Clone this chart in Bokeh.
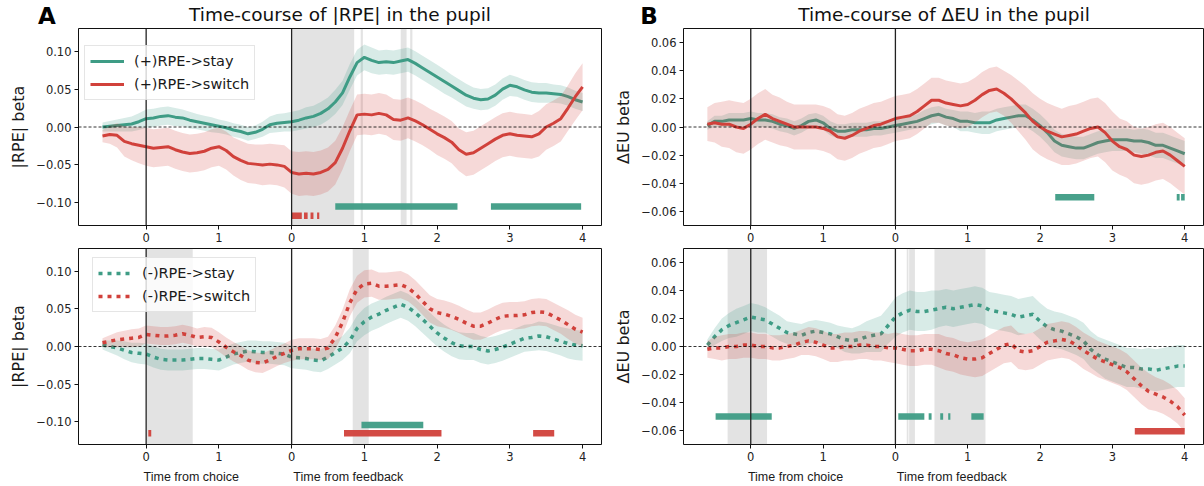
import numpy as np
from bokeh.plotting import figure
from bokeh.layouts import row, column
from bokeh.models import (Range1d, FixedTicker, LinearAxis, Span, Legend,
                          LegendItem)
from bokeh.core.properties import value
from bokeh.embed import file_html
from bokeh.resources import INLINE

# ---------------- data ----------------
# shared time axis: choice-locked part (t) then feedback-locked part (feedback 0 == 2.0)
T = [-0.6, -0.5, -0.4, -0.3, -0.2, -0.1, 0.0, 0.1, 0.2, 0.3,
     0.4, 0.5, 0.6, 0.7, 0.8, 0.9, 1.0, 1.1, 1.2, 1.3,
     1.4, 1.5, 1.6, 1.7, 1.8, 1.9, 2.0, 2.1, 2.2, 2.3,
     2.4, 2.5, 2.6, 2.7, 2.8, 2.9, 3.0, 3.1, 3.2, 3.3,
     3.4, 3.5, 3.6, 3.7, 3.8, 3.9, 4.0, 4.1, 4.2, 4.3,
     4.4, 4.5, 4.6, 4.7, 4.8, 4.9, 5.0, 5.1, 5.2, 5.3,
     5.4, 5.5, 5.6, 5.7, 5.8, 5.9, 6.0]
FB = 2.0  # position of "feedback 0" on the shared axis

XTICKS = [0, 1, 2, 3, 4, 5, 6]
XTICK_LABELS = ["0", "1", "0", "1", "2", "3", "4"]

TITLE_A = "Time-course of |RPE| in the pupil"
TITLE_B = "Time-course of \u0394EU in the pupil"

# Panel A top: (+)RPE
pos_stay = [0.000, 0.001, 0.002, 0.003, 0.004, 0.007, 0.011, 0.012, 0.014, 0.015,
            0.013, 0.012, 0.009, 0.007, 0.005, 0.003, 0.001, -0.001, -0.004, -0.006,
            -0.009, -0.007, -0.003, 0.003, 0.005, 0.006, 0.007, 0.009, 0.012, 0.014,
            0.018, 0.024, 0.033, 0.045, 0.066, 0.085, 0.092, 0.088, 0.085, 0.086,
            0.085, 0.087, 0.089, 0.084, 0.078, 0.072, 0.066, 0.060, 0.054, 0.048,
            0.042, 0.038, 0.036, 0.037, 0.042, 0.050, 0.055, 0.053, 0.049, 0.046,
            0.045, 0.045, 0.044, 0.043, 0.040, 0.036, 0.033]
pos_stay_err = [0.006, 0.007, 0.008, 0.009, 0.010, 0.011, 0.012, 0.012, 0.012, 0.012,
                0.012, 0.011, 0.011, 0.010, 0.010, 0.010, 0.009, 0.009, 0.009, 0.009,
                0.009, 0.009, 0.010, 0.011, 0.012, 0.012, 0.013, 0.013, 0.014, 0.014,
                0.015, 0.015, 0.016, 0.016, 0.017, 0.017, 0.017, 0.017, 0.016, 0.016,
                0.016, 0.016, 0.016, 0.016, 0.016, 0.016, 0.016, 0.016, 0.015, 0.015,
                0.015, 0.014, 0.014, 0.014, 0.014, 0.014, 0.014, 0.013, 0.013, 0.013,
                0.013, 0.013, 0.012, 0.012, 0.012, 0.012, 0.012]
pos_switch = [-0.012, -0.010, -0.011, -0.019, -0.022, -0.024, -0.026, -0.028, -0.027, -0.026,
              -0.030, -0.033, -0.035, -0.034, -0.032, -0.028, -0.026, -0.031, -0.039, -0.044,
              -0.048, -0.049, -0.050, -0.049, -0.050, -0.052, -0.060, -0.062, -0.061, -0.062,
              -0.060, -0.056, -0.047, -0.028, -0.005, 0.016, 0.017, 0.016, 0.018, 0.016,
              0.010, 0.009, 0.012, 0.008, 0.003, -0.003, -0.009, -0.014, -0.020, -0.030,
              -0.036, -0.034, -0.028, -0.022, -0.016, -0.011, -0.009, -0.011, -0.012, -0.013,
              -0.009, 0.000, 0.005, 0.011, 0.025, 0.040, 0.053]
pos_switch_err = [0.008, 0.012, 0.016, 0.020, 0.022, 0.024, 0.025, 0.025, 0.025, 0.025,
                  0.025, 0.025, 0.025, 0.025, 0.025, 0.025, 0.025, 0.025, 0.025, 0.026,
                  0.026, 0.026, 0.027, 0.027, 0.027, 0.028, 0.028, 0.029, 0.029, 0.029,
                  0.029, 0.029, 0.029, 0.028, 0.027, 0.027, 0.027, 0.027, 0.027, 0.027,
                  0.027, 0.027, 0.027, 0.027, 0.027, 0.027, 0.028, 0.028, 0.028, 0.028,
                  0.029, 0.029, 0.029, 0.029, 0.029, 0.029, 0.029, 0.029, 0.029, 0.029,
                  0.030, 0.030, 0.030, 0.030, 0.030, 0.031, 0.031]

# Panel A bottom: (-)RPE
neg_stay = [0.002, 0.000, -0.002, -0.005, -0.008, -0.009, -0.010, -0.014, -0.017, -0.018,
            -0.018, -0.018, -0.017, -0.016, -0.016, -0.017, -0.018, -0.014, -0.010, -0.008,
            -0.006, -0.007, -0.008, -0.008, -0.009, -0.010, -0.014, -0.015, -0.016, -0.018,
            -0.019, -0.014, -0.008, -0.002, 0.008, 0.024, 0.033, 0.039, 0.043, 0.048,
            0.052, 0.056, 0.052, 0.045, 0.036, 0.027, 0.018, 0.011, 0.005, 0.001,
            0.000, 0.000, -0.004, -0.006, -0.004, -0.001, 0.003, 0.007, 0.011, 0.012,
            0.014, 0.013, 0.010, 0.007, 0.004, 0.002, 0.001]
neg_stay_err = [0.006, 0.008, 0.010, 0.012, 0.013, 0.014, 0.014, 0.014, 0.014, 0.014,
                0.014, 0.014, 0.014, 0.014, 0.014, 0.014, 0.014, 0.014, 0.014, 0.014,
                0.014, 0.015, 0.015, 0.015, 0.015, 0.015, 0.015, 0.015, 0.015, 0.015,
                0.015, 0.016, 0.016, 0.016, 0.017, 0.017, 0.018, 0.018, 0.018, 0.018,
                0.018, 0.018, 0.018, 0.018, 0.018, 0.018, 0.018, 0.018, 0.018, 0.018,
                0.018, 0.018, 0.018, 0.018, 0.018, 0.018, 0.018, 0.018, 0.018, 0.018,
                0.019, 0.019, 0.019, 0.019, 0.020, 0.020, 0.020]
neg_switch = [0.005, 0.007, 0.009, 0.010, 0.011, 0.012, 0.016, 0.015, 0.014, 0.014,
              0.015, 0.017, 0.015, 0.012, 0.013, 0.012, 0.006, -0.001, -0.007, -0.012,
              -0.018, -0.021, -0.022, -0.018, -0.013, -0.009, -0.005, -0.003, -0.003, -0.003,
              -0.004, -0.002, 0.012, 0.032, 0.058, 0.076, 0.083, 0.084, 0.080, 0.080,
              0.081, 0.082, 0.078, 0.070, 0.060, 0.050, 0.045, 0.043, 0.040, 0.036,
              0.031, 0.027, 0.027, 0.031, 0.036, 0.040, 0.041, 0.041, 0.042, 0.045,
              0.046, 0.045, 0.040, 0.035, 0.029, 0.023, 0.019]
neg_switch_err = [0.006, 0.008, 0.010, 0.011, 0.012, 0.012, 0.012, 0.012, 0.012, 0.012,
                  0.012, 0.012, 0.012, 0.012, 0.013, 0.013, 0.013, 0.013, 0.013, 0.013,
                  0.013, 0.013, 0.013, 0.013, 0.013, 0.013, 0.014, 0.014, 0.014, 0.014,
                  0.014, 0.015, 0.016, 0.017, 0.018, 0.018, 0.018, 0.018, 0.018, 0.018,
                  0.018, 0.018, 0.018, 0.018, 0.018, 0.018, 0.018, 0.018, 0.018, 0.018,
                  0.018, 0.018, 0.018, 0.018, 0.018, 0.018, 0.018, 0.018, 0.018, 0.018,
                  0.018, 0.018, 0.018, 0.018, 0.019, 0.019, 0.019]

# Panel B top: (+)RPE, delta EU
eu_pos_stay = [0.001, 0.004, 0.004, 0.005, 0.005, 0.005, 0.006, 0.005, 0.005, 0.004,
               0.002, 0.001, -0.001, 0.001, 0.004, 0.005, 0.003, -0.001, -0.003, -0.003,
               -0.002, -0.002, -0.002, -0.001, -0.001, 0.000, 0.001, 0.002, 0.003, 0.004,
               0.006, 0.008, 0.009, 0.007, 0.006, 0.004, 0.004, 0.003, 0.003, 0.003,
               0.005, 0.006, 0.007, 0.008, 0.008, 0.005, 0.001, -0.004, -0.010, -0.013,
               -0.014, -0.015, -0.015, -0.013, -0.011, -0.010, -0.009, -0.009, -0.009, -0.010,
               -0.010, -0.011, -0.013, -0.013, -0.015, -0.017, -0.019]
eu_pos_stay_err = [0.003, 0.004, 0.004, 0.005, 0.005, 0.005, 0.005, 0.005, 0.005, 0.005,
                   0.005, 0.005, 0.005, 0.005, 0.005, 0.005, 0.005, 0.005, 0.005, 0.005,
                   0.005, 0.005, 0.005, 0.005, 0.005, 0.005, 0.005, 0.005, 0.005, 0.005,
                   0.006, 0.006, 0.006, 0.006, 0.006, 0.007, 0.007, 0.007, 0.008, 0.008,
                   0.008, 0.008, 0.008, 0.008, 0.008, 0.008, 0.008, 0.008, 0.008, 0.008,
                   0.008, 0.008, 0.008, 0.008, 0.008, 0.008, 0.008, 0.008, 0.008, 0.008,
                   0.009, 0.009, 0.009, 0.009, 0.009, 0.009, 0.009]
eu_pos_switch = [0.002, 0.003, 0.002, 0.002, 0.000, -0.001, 0.002, 0.006, 0.009, 0.006,
                 0.004, 0.002, 0.000, 0.000, 0.000, 0.000, -0.001, -0.003, -0.007, -0.008,
                 -0.006, -0.003, -0.001, 0.001, 0.002, 0.004, 0.006, 0.007, 0.008, 0.011,
                 0.015, 0.019, 0.019, 0.017, 0.016, 0.015, 0.016, 0.019, 0.023, 0.026,
                 0.027, 0.024, 0.020, 0.015, 0.010, 0.004, 0.000, -0.003, -0.005, -0.007,
                 -0.006, -0.005, -0.003, -0.001, 0.000, -0.004, -0.010, -0.014, -0.016, -0.020,
                 -0.021, -0.020, -0.018, -0.017, -0.020, -0.024, -0.028]
eu_pos_switch_err = [0.012, 0.014, 0.016, 0.017, 0.018, 0.018, 0.018, 0.018, 0.018, 0.017,
                     0.017, 0.016, 0.016, 0.016, 0.016, 0.016, 0.016, 0.016, 0.016, 0.016,
                     0.016, 0.016, 0.016, 0.016, 0.016, 0.016, 0.016, 0.016, 0.016, 0.016,
                     0.016, 0.016, 0.016, 0.016, 0.016, 0.016, 0.016, 0.016, 0.016, 0.016,
                     0.016, 0.016, 0.017, 0.018, 0.019, 0.020, 0.020, 0.020, 0.020, 0.020,
                     0.021, 0.021, 0.021, 0.021, 0.021, 0.021, 0.021, 0.020, 0.020, 0.020,
                     0.020, 0.020, 0.020, 0.020, 0.020, 0.020, 0.020]

# Panel B bottom: (-)RPE, delta EU
eu_neg_stay = [0.001, 0.007, 0.012, 0.015, 0.017, 0.019, 0.021, 0.020, 0.019, 0.016,
               0.013, 0.010, 0.009, 0.008, 0.010, 0.011, 0.010, 0.009, 0.007, 0.005,
               0.004, 0.005, 0.007, 0.008, 0.009, 0.015, 0.021, 0.024, 0.026, 0.025,
               0.025, 0.026, 0.027, 0.028, 0.027, 0.028, 0.029, 0.030, 0.029, 0.026,
               0.025, 0.024, 0.023, 0.021, 0.022, 0.023, 0.018, 0.014, 0.012, 0.011,
               0.009, 0.007, 0.004, -0.002, -0.006, -0.009, -0.011, -0.013, -0.015, -0.015,
               -0.016, -0.016, -0.017, -0.016, -0.015, -0.014, -0.014]
eu_neg_stay_err = [0.004, 0.006, 0.008, 0.009, 0.010, 0.010, 0.010, 0.010, 0.009, 0.009,
                   0.009, 0.008, 0.008, 0.008, 0.008, 0.008, 0.008, 0.008, 0.008, 0.009,
                   0.009, 0.010, 0.011, 0.012, 0.013, 0.013, 0.014, 0.014, 0.014, 0.014,
                   0.014, 0.014, 0.013, 0.013, 0.013, 0.013, 0.013, 0.013, 0.013, 0.013,
                   0.013, 0.013, 0.013, 0.013, 0.013, 0.013, 0.013, 0.013, 0.013, 0.013,
                   0.013, 0.013, 0.013, 0.013, 0.013, 0.014, 0.014, 0.014, 0.014, 0.014,
                   0.014, 0.015, 0.015, 0.015, 0.015, 0.015, 0.015]
eu_neg_switch = [-0.002, -0.001, -0.001, 0.000, 0.000, 0.001, 0.001, 0.000, 0.000, -0.001,
                 -0.001, 0.000, 0.001, 0.003, 0.004, 0.003, 0.001, -0.001, -0.001, 0.000,
                 0.000, 0.001, 0.001, 0.000, 0.000, -0.001, -0.001, -0.002, -0.003, -0.003,
                 -0.002, -0.002, -0.003, -0.005, -0.006, -0.008, -0.009, -0.009, -0.008, -0.005,
                 -0.002, 0.001, 0.002, -0.003, -0.004, -0.003, 0.000, 0.003, 0.004, 0.005,
                 0.004, 0.001, -0.003, -0.006, -0.009, -0.011, -0.013, -0.015, -0.018, -0.023,
                 -0.028, -0.032, -0.034, -0.036, -0.039, -0.043, -0.049]
eu_neg_switch_err = [0.006, 0.008, 0.009, 0.009, 0.009, 0.009, 0.009, 0.009, 0.009, 0.009,
                     0.009, 0.009, 0.009, 0.009, 0.010, 0.010, 0.010, 0.010, 0.010, 0.010,
                     0.010, 0.010, 0.010, 0.010, 0.010, 0.010, 0.011, 0.011, 0.011, 0.011,
                     0.011, 0.011, 0.012, 0.012, 0.012, 0.012, 0.012, 0.013, 0.013, 0.013,
                     0.013, 0.013, 0.013, 0.013, 0.013, 0.013, 0.013, 0.013, 0.013, 0.013,
                     0.013, 0.013, 0.013, 0.013, 0.013, 0.013, 0.013, 0.013, 0.013, 0.013,
                     0.013, 0.013, 0.012, 0.012, 0.012, 0.012, 0.012]

for arr in [pos_stay, pos_stay_err, pos_switch, pos_switch_err, neg_stay, neg_stay_err,
            neg_switch, neg_switch_err, eu_pos_stay, eu_pos_stay_err, eu_pos_switch,
            eu_pos_switch_err, eu_neg_stay, eu_neg_stay_err, eu_neg_switch, eu_neg_switch_err]:
    assert len(arr) == len(T), len(arr)

# grey shaded windows (start, end); choice-locked and feedback-locked times
a1_grey_choice_start, a1_grey_choice_end = [], []
a1_grey_fb_start = [0.01, 0.95, 1.50, 1.63]
a1_grey_fb_end = [0.86, 0.98, 1.58, 1.66]
a2_grey_choice_start, a2_grey_choice_end = [0.01], [0.64]
a2_grey_fb_start, a2_grey_fb_end = [0.84], [1.06]
b1_grey_choice_start, b1_grey_choice_end = [], []
b1_grey_fb_start, b1_grey_fb_end = [], []
b2_grey_choice_start, b2_grey_choice_end = [-0.32], [0.225]
b2_grey_fb_start = [0.157, 0.19, 0.54]
b2_grey_fb_end = [0.18, 0.27, 1.245]

# significance bars (feedback-locked unless noted)
a1_sig_stay_start, a1_sig_stay_end = [0.60, 2.74], [2.28, 3.98]
a1_sig_switch_start = [0.00, 0.17, 0.26, 0.35]
a1_sig_switch_end = [0.14, 0.22, 0.30, 0.38]
a2_sig_stay_start, a2_sig_stay_end = [0.96], [1.81]
a2_sig_switch_choice_start, a2_sig_switch_choice_end = [0.03], [0.07]
a2_sig_switch_start, a2_sig_switch_end = [0.72, 3.32], [2.06, 3.61]
b1_sig_stay_start, b1_sig_stay_end = [2.21, 3.89, 3.95], [2.75, 3.93, 4.00]
b2_sig_stay_choice_start, b2_sig_stay_choice_end = [-0.486], [0.29]
b2_sig_stay_start = [0.04, 0.46, 0.62, 0.73, 1.05]
b2_sig_stay_end = [0.40, 0.50, 0.66, 0.76, 1.22]
b2_sig_switch_start, b2_sig_switch_end = [3.31], [4.00]

A_YTICKS = [-0.1, -0.05, 0, 0.05, 0.1]
A_YLABELS = ["\u22120.10", "\u22120.05", "0.00", "0.05", "0.10"]
B_YTICKS = [-0.06, -0.04, -0.02, 0, 0.02, 0.04, 0.06]
B_YLABELS = ["\u22120.06", "\u22120.04", "\u22120.02", "0.00", "0.02", "0.04", "0.06"]

# ---------------- style ----------------
TEAL = "#3e9c85"
RED = "#d1413b"
FONT = "DejaVu Sans"
XR = (-0.93, 6.26)
A_YR = (-0.13, 0.13)
B_YR = (-0.07, 0.07)
HEADER_H = 27


def make_fig(width, height, yr, yticks, ylabels, ylabel, mbl, mbr, mbt, mbb):
    p = figure(width=width, height=height, x_range=Range1d(*XR), y_range=Range1d(*yr),
               output_backend="svg", toolbar_location=None,
               min_border_left=mbl, min_border_right=mbr,
               min_border_top=mbt, min_border_bottom=mbb)
    p.xgrid.visible = False
    p.ygrid.visible = False
    p.outline_line_color = "#111111"
    p.outline_line_width = 1
    p.outline_line_alpha = 1.0
    xa = p.xaxis[0]
    xa.ticker = FixedTicker(ticks=XTICKS)
    xa.major_label_overrides = dict(zip(XTICKS, XTICK_LABELS))
    ya = p.yaxis[0]
    ya.ticker = FixedTicker(ticks=yticks)
    ya.major_label_overrides = dict(zip(yticks, ylabels))
    ya.axis_label = ylabel
    ya.axis_label_text_font = FONT
    ya.axis_label_text_font_size = "16px"
    ya.axis_label_text_font_style = "normal"
    ya.axis_label_text_color = "#1a1a1a"
    ya.axis_label_standoff = 5
    for ax in (xa, ya):
        ax.axis_line_color = None
        ax.major_tick_out = 4
        ax.major_tick_in = 0
        ax.major_tick_line_color = "#111111"
        ax.minor_tick_line_color = None
        ax.major_label_text_font = FONT
        ax.major_label_text_font_size = "11.5px"
        ax.major_label_text_color = "#222222"
        ax.major_label_standoff = 3
    return p


def add_grey(p, yr, cs, ce, fs, fe):
    left = list(cs) + [FB + v for v in fs]
    right = list(ce) + [FB + v for v in fe]
    if left:
        p.quad(left=left, right=right, bottom=yr[0], top=yr[1],
               fill_color="#808080", fill_alpha=0.22, line_color=None)


def add_refs(p):
    p.add_layout(Span(location=0, dimension="width", line_color="#000000",
                      line_width=0.8, line_dash="3 2"))
    p.add_layout(Span(location=0, dimension="height", line_color="#222222", line_width=1.3))
    p.add_layout(Span(location=FB, dimension="height", line_color="#222222", line_width=1.3))


def add_series(p, mean, err, color, dashed):
    m = np.array(mean)
    e = np.array(err)
    p.varea(x=T, y1=m - e, y2=m + e, fill_color=color, fill_alpha=0.2)
    if dashed:
        r = p.line(T, mean, line_color=color, line_width=3.5, line_dash="4 5")
    else:
        r = p.line(T, mean, line_color=color, line_width=3)
    return r


def add_sig(p, starts, ends, level, color, offset):
    x0 = [offset + v for v in starts]
    x1 = [offset + v for v in ends]
    p.segment(x0=x0, x1=x1, y0=[level] * len(x0), y1=[level] * len(x0),
              line_color=color, line_width=6.5, line_alpha=0.95, line_cap="butt")


def add_legend(p, r1, l1, r2, l2, loc):
    leg = Legend(items=[LegendItem(label=l1, renderers=[r1]),
                        LegendItem(label=l2, renderers=[r2])],
                 location=loc)
    leg.label_text_font = FONT
    leg.label_text_font_size = "14.5px"
    leg.label_text_color = "#1a1a1a"
    leg.glyph_width = 34
    leg.glyph_height = 20
    leg.label_height = 20
    leg.label_standoff = 10
    leg.spacing = 3
    leg.padding = 5
    leg.margin = 0
    leg.border_line_color = "#cccccc"
    leg.border_line_width = 1
    leg.background_fill_alpha = 0.8
    p.add_layout(leg)


def add_time_axis(p):
    ticks = [0.62, 2.78]
    ax = LinearAxis(ticker=FixedTicker(ticks=ticks),
                    major_label_overrides={0.62: "Time from choice", 2.78: "Time from feedback"})
    ax.axis_line_color = None
    ax.major_tick_line_color = None
    ax.minor_tick_line_color = None
    ax.major_label_standoff = 0
    ax.major_label_text_font = "Liberation Sans"
    ax.major_label_text_font_size = "12.5px"
    ax.major_label_text_color = "#1a1a1a"
    p.add_layout(ax, "below")


# ---------------- header strip (panel letters and titles) ----------------
W_A, W_B = 605, 599
hdr = figure(width=W_A + W_B, height=HEADER_H, x_range=Range1d(0, W_A + W_B),
             y_range=Range1d(0, HEADER_H), output_backend="svg", toolbar_location=None,
             x_axis_location=None, y_axis_location=None, min_border=0)
hdr.xgrid.visible = False
hdr.ygrid.visible = False
hdr.outline_line_color = None
hdr.text(x=[339.5, 943.5], y=[13.0, 13.0], text=[TITLE_A, TITLE_B],
         text_align="center", text_baseline="middle",
         text_font=value(FONT), text_font_size="18.5px", text_color="#111111")
hdr.text(x=[46.5, 648.5], y=[12.0, 12.0], text=["A", "B"],
         text_align="center", text_baseline="middle",
         text_font=value(FONT), text_font_style="bold", text_font_size="23px",
         text_color="#000000")

# ---------------- Panel A top ----------------
pA1 = make_fig(W_A, 218, A_YR, A_YTICKS, A_YLABELS, "|RPE| beta", 78, 4, 1, 20)
add_grey(pA1, A_YR, a1_grey_choice_start, a1_grey_choice_end, a1_grey_fb_start, a1_grey_fb_end)
add_refs(pA1)
r_a1s = add_series(pA1, pos_stay, pos_stay_err, TEAL, False)
r_a1w = add_series(pA1, pos_switch, pos_switch_err, RED, False)
add_sig(pA1, a1_sig_stay_start, a1_sig_stay_end, -0.105, TEAL, FB)
add_sig(pA1, a1_sig_switch_start, a1_sig_switch_end, -0.117, RED, FB)
add_legend(pA1, r_a1s, "(+)RPE->stay", r_a1w, "(+)RPE->switch", (6, 125))

# ---------------- Panel A bottom ----------------
pA2 = make_fig(W_A, 241, A_YR, A_YTICKS, A_YLABELS, "|RPE| beta", 78, 4, 3, 41)
add_grey(pA2, A_YR, a2_grey_choice_start, a2_grey_choice_end, a2_grey_fb_start, a2_grey_fb_end)
add_refs(pA2)
r_a2s = add_series(pA2, neg_stay, neg_stay_err, TEAL, True)
r_a2w = add_series(pA2, neg_switch, neg_switch_err, RED, True)
add_sig(pA2, a2_sig_stay_start, a2_sig_stay_end, -0.104, TEAL, FB)
add_sig(pA2, a2_sig_switch_choice_start, a2_sig_switch_choice_end, -0.115, RED, 0.0)
add_sig(pA2, a2_sig_switch_start, a2_sig_switch_end, -0.115, RED, FB)
add_legend(pA2, r_a2s, "(-)RPE->stay", r_a2w, "(-)RPE->switch", (14, 132))
add_time_axis(pA2)

# ---------------- Panel B top ----------------
pB1 = make_fig(W_B, 218, B_YR, B_YTICKS, B_YLABELS, "\u0394EU beta", 78, 1, 1, 20)
add_grey(pB1, B_YR, b1_grey_choice_start, b1_grey_choice_end, b1_grey_fb_start, b1_grey_fb_end)
add_refs(pB1)
add_series(pB1, eu_pos_stay, eu_pos_stay_err, TEAL, False)
add_series(pB1, eu_pos_switch, eu_pos_switch_err, RED, False)
add_sig(pB1, b1_sig_stay_start, b1_sig_stay_end, -0.050, TEAL, FB)

# ---------------- Panel B bottom ----------------
pB2 = make_fig(W_B, 241, B_YR, B_YTICKS, B_YLABELS, "\u0394EU beta", 78, 1, 3, 41)
add_grey(pB2, B_YR, b2_grey_choice_start, b2_grey_choice_end, b2_grey_fb_start, b2_grey_fb_end)
add_refs(pB2)
add_series(pB2, eu_neg_stay, eu_neg_stay_err, TEAL, True)
add_series(pB2, eu_neg_switch, eu_neg_switch_err, RED, True)
add_sig(pB2, b2_sig_stay_choice_start, b2_sig_stay_choice_end, -0.050, TEAL, 0.0)
add_sig(pB2, b2_sig_stay_start, b2_sig_stay_end, -0.050, TEAL, FB)
add_sig(pB2, b2_sig_switch_start, b2_sig_switch_end, -0.0605, RED, FB)
add_time_axis(pB2)

layout = column(hdr, row(column(pA1, pA2), column(pB1, pB2)))
open("out.html", "w").write(file_html(layout, INLINE))
